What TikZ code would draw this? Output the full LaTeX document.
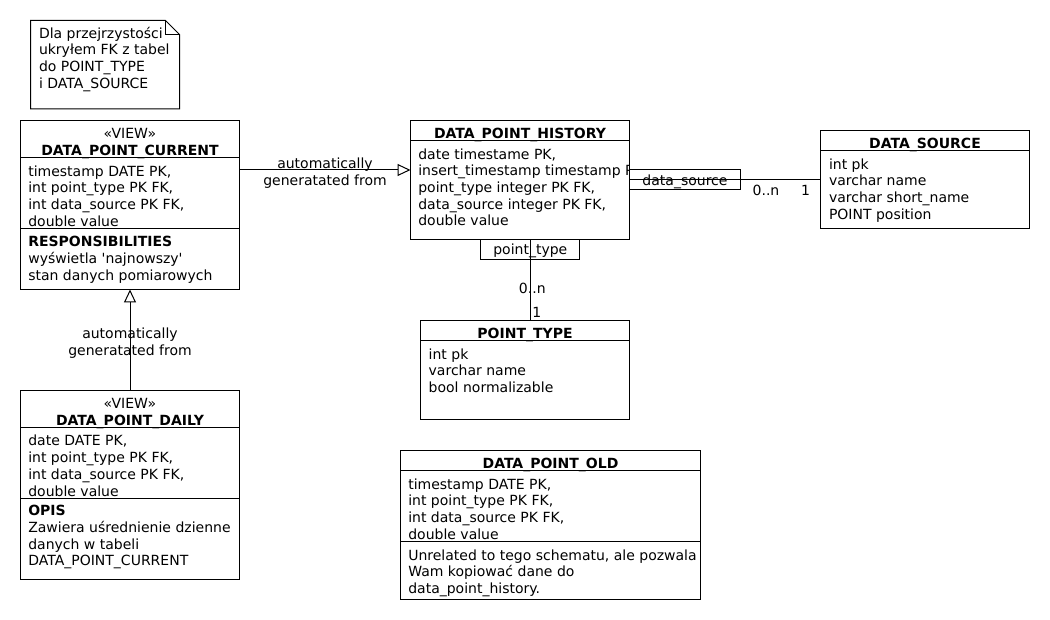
\documentclass[tikz,border=0pt]{standalone}
\usepackage{fontspec}
\setmainfont{DejaVu Sans}
\usetikzlibrary{arrows.meta}

\begin{document}
\begin{tikzpicture}[x = 1pt, y = -1pt, line width = 1pt,
    every node/.style = {inner sep = 0pt, outer sep = 0pt, font = \fontsize{14}{16.7}\selectfont},
    box/.style = {draw, rectangle},
    title/.style = {anchor = base, font = \fontsize{14}{16.7}\selectfont\bfseries},
    stereotype/.style = {anchor = base},
    fields/.style = {anchor = north west, align = left, execute at begin node = \strut},
    qualifier/.style = {draw, minimum height = 20pt, text height = 13pt, text depth = 2.5pt},
    multiplicity/.style = {anchor = base},
    edge label/.style = {align = center, execute at begin node = \strut},
    generalization/.style = {-{Triangle[open, length = 13pt, width = 12pt]}}]
    \fill[white] (0, 0) rectangle (1050, 620);
    \draw (30.5, 20.5) -- (165.5, 20.5) -- (179.5, 34.5) -- (179.5, 109) -- (30.5, 109) -- cycle;
    \draw (165.5, 20.5) -- (165.5, 34.5) -- (179.5, 34.5);
    \node[fields] (note text) at (39, 27) {Dla przejrzystości\\ukryłem FK z tabel\\do POINT\_TYPE\\i DATA\_SOURCE};
    \node[box, minimum width = 219pt, minimum height = 169pt] (data point current) at (130, 205) {};
    \node[stereotype] (current stereotype) at (130, 138.3) {«VIEW»};
    \node[title] (current title) at (130, 155.3) {DATA\_POINT\_CURRENT};
    \draw (data point current.west |- 0, 157.5) -- (data point current.east |- 0, 157.5);
    \node[fields] (current fields) at (28.3, 165.5) {timestamp DATE PK,\\int point\_type PK FK,\\int data\_source PK FK,\\double value};
    \draw (data point current.west |- 0, 228.5) -- (data point current.east |- 0, 228.5);
    \node[fields] (current duties) at (28.3, 236.5) {\textbf{RESPONSIBILITIES}\\wyświetla \textquotesingle najnowszy\textquotesingle\\stan danych pomiarowych};
    \node[box, minimum width = 219pt, minimum height = 119pt] (data point history) at (520, 180) {};
    \node[title] (history title) at (520, 138.2) {DATA\_POINT\_HISTORY};
    \draw (data point history.west |- 0, 140.5) -- (data point history.east |- 0, 140.5);
    \begin{scope}
        \clip (data point history.south west) rectangle (data point history.north east);
        \node[fields] (history fields) at (418.3, 148.5) {date timestame PK,\\insert\_timestamp timestamp PK,\\point\_type integer PK FK,\\data\_source integer PK FK,\\double value};
    \end{scope}
    \node[box, minimum width = 209pt, minimum height = 98pt] (data source) at (925, 179.5) {};
    \node[title] (source title) at (925, 148.5) {DATA\_SOURCE};
    \draw (data source.west |- 0, 150.5) -- (data source.east |- 0, 150.5);
    \node[fields] (source fields) at (829, 158.5) {int pk\\varchar name\\varchar short\_name\\POINT position};
    \node[box, minimum width = 209pt, minimum height = 99pt] (point type) at (525, 370) {};
    \node[title] (type title) at (525, 338.3) {POINT\_TYPE};
    \draw (point type.west |- 0, 340.5) -- (point type.east |- 0, 340.5);
    \node[fields] (type fields) at (428.7, 348.5) {int pk\\varchar name\\bool normalizable};
    \node[box, minimum width = 219pt, minimum height = 189pt] (data point daily) at (130, 485) {};
    \node[stereotype] (daily stereotype) at (130, 408.3) {«VIEW»};
    \node[title] (daily title) at (130, 425) {DATA\_POINT\_DAILY};
    \draw (data point daily.west |- 0, 427.5) -- (data point daily.east |- 0, 427.5);
    \node[fields] (daily fields) at (28.3, 435.3) {date DATE PK,\\int point\_type PK FK,\\int data\_source PK FK,\\double value};
    \draw (data point daily.west |- 0, 498.5) -- (data point daily.east |- 0, 498.5);
    \node[fields] (daily description) at (28.3, 505.5) {\textbf{OPIS}\\Zawiera uśrednienie dzienne\\danych w tabeli\\DATA\_POINT\_CURRENT};
    \node[box, minimum width = 300pt, minimum height = 149pt] (data point old) at (550.5, 525) {};
    \node[title] (old title) at (550.5, 468.5) {DATA\_POINT\_OLD};
    \draw (data point old.west |- 0, 470.5) -- (data point old.east |- 0, 470.5);
    \node[fields] (old fields) at (408.3, 478.6) {timestamp DATE PK,\\int point\_type PK FK,\\int data\_source PK FK,\\double value};
    \draw (data point old.west |- 0, 541.5) -- (data point old.east |- 0, 541.5);
    \node[fields] (old description) at (408.3, 549.6) {Unrelated to tego schematu, ale pozwala\\Wam kopiować dane do\\data\_point\_history.};
    \coordinate (history in) at ([yshift = 10pt]data point history.west);
    \draw[generalization] (data point current.east |- history in) -- (history in) node[edge label, midway, yshift = -4pt] (current label) {automatically\\generatated from};
    \draw[generalization] (data point daily) -- (data point current) node[edge label, midway, yshift = -4.5pt] (daily label) {automatically\\generatated from};
    \node[qualifier, anchor = west, minimum width = 111pt] (source qualifier) at (data point history.east) {data\_source};
    \draw (data point history.east) -- (data point history.east -| data source.west);
    \node[multiplicity] (source many) at (766, 196) {0..n};
    \node[multiplicity] (source one) at (805.5, 196) {1};
    \coordinate (history out) at ([xshift = 10.3pt]data point history.south);
    \node[qualifier, anchor = north, minimum width = 99pt] (type qualifier) at (history out) {point\_type};
    \draw (history out) -- (history out |- point type.north);
    \node[multiplicity] (type many) at (532.3, 293.3) {0..n};
    \node[multiplicity] (type one) at (536.7, 318) {1};
\end{tikzpicture}
\end{document}
